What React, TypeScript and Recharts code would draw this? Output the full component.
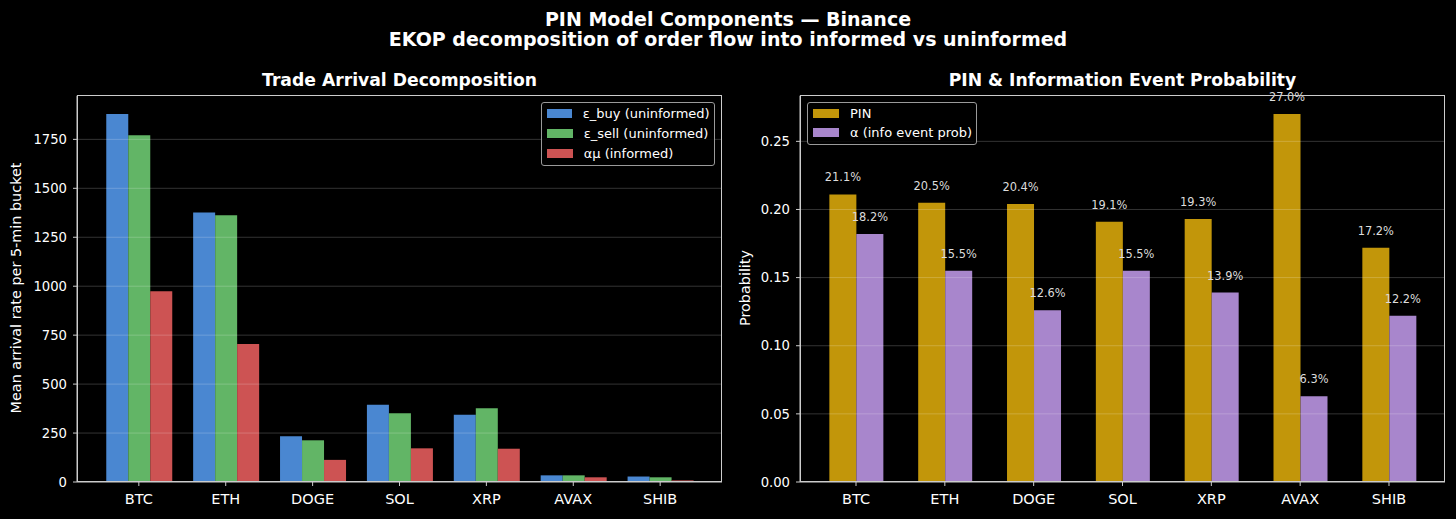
import React from 'react';
import { BarChart, Bar, XAxis, YAxis, ReferenceLine, Legend, LabelList } from 'recharts';

const FONT = '"DejaVu Sans", Verdana, sans-serif';

const categories = ['BTC', 'ETH', 'DOGE', 'SOL', 'XRP', 'AVAX', 'SHIB'];
const epsBuy = [1879, 1377, 234, 395, 344, 34, 28];
const epsSell = [1771, 1363, 213, 351, 377, 34, 24];
const informed = [974, 705, 113, 172, 170, 24, 8];
const pinValues = [0.211, 0.205, 0.204, 0.191, 0.193, 0.27, 0.172];
const alphaValues = [0.182, 0.155, 0.126, 0.155, 0.139, 0.063, 0.122];

const leftSeriesNames = ['ε_buy (uninformed)', 'ε_sell (uninformed)', 'αμ (informed)'];
const leftSeriesColors = ['#4a87d1', '#62b566', '#cd5353'];
const rightSeriesNames = ['PIN', 'α (info event prob)'];
const rightSeriesColors = ['#c2960a', '#a886cc'];

const leftTicks = [0, 250, 500, 750, 1000, 1250, 1500, 1750];
const rightTicks = [0, 0.05, 0.1, 0.15, 0.2, 0.25];
const leftMax = 1973;
const rightMax = 0.2835;

const leftData = categories.map((name, i) => ({
  name,
  buy: epsBuy[i],
  sell: epsSell[i],
  inf: informed[i],
}));
const rightData = categories.map((name, i) => ({
  name,
  pin: pinValues[i],
  alpha: alphaValues[i],
}));

const AXIS = '#cccccc';

function LegendBox(props: any) {
  const { names, colors, rowH, boxStyle } = props;
  return (
    <div
      style={{
        border: '1px solid #9a9a9a',
        borderRadius: 3,
        background: 'rgba(0,0,0,0.85)',
        padding: '1px 4px 2px 5px',
        fontFamily: FONT,
        fontSize: 13,
        color: '#ffffff',
        boxSizing: 'border-box',
        ...boxStyle,
      }}
    >
      {names.map((n: string, i: number) => (
        <div key={n} style={{ display: 'flex', alignItems: 'center', height: rowH, whiteSpace: 'nowrap' }}>
          <span style={{ display: 'inline-block', width: 26, height: 9, background: colors[i], marginRight: 11 }} />
          <span>{n}</span>
        </div>
      ))}
    </div>
  );
}

const tickStyleX = { fill: '#ffffff', fontSize: 14.5, fontFamily: FONT };
const tickStyleY = { fill: '#ffffff', fontSize: 13.2, fontFamily: FONT };

function LeftChart() {
  return (
    <BarChart
      width={728}
      height={519}
      data={leftData}
      margin={{ top: 95.7, right: 6, left: 27, bottom: 7 }}
      barCategoryGap="12.5%"
      barGap={0}
    >
      <XAxis
        dataKey="name"
        interval={0}
        padding={{ left: 18.4, right: 18.4 }}
        tick={tickStyleX}
        tickSize={4}
        tickMargin={8}
        height={30}
        axisLine={{ stroke: AXIS }}
        tickLine={{ stroke: AXIS }}
      />
      <YAxis
        domain={[0, leftMax]}
        ticks={leftTicks}
        allowDataOverflow
        width={50}
        tick={tickStyleY}
        tickSize={4}
        tickMargin={6}
        axisLine={{ stroke: AXIS }}
        tickLine={{ stroke: AXIS }}
      />
      <Bar dataKey="buy" name={leftSeriesNames[0]} fill={leftSeriesColors[0]} isAnimationActive={false} />
      <Bar dataKey="sell" name={leftSeriesNames[1]} fill={leftSeriesColors[1]} isAnimationActive={false} />
      <Bar dataKey="inf" name={leftSeriesNames[2]} fill={leftSeriesColors[2]} isAnimationActive={false} />
      {leftTicks
        .filter((t) => t > 0)
        .map((t) => (
          <ReferenceLine key={t} y={t} stroke="#ffffff" strokeOpacity={0.2} strokeWidth={1} />
        ))}
      <Legend
        layout="horizontal"
        verticalAlign="middle"
        align="center"
        wrapperStyle={{ top: 101.7, left: 540.7, width: 'auto', height: 'auto', bottom: 'auto', right: 'auto' }}
        content={() => (
          <LegendBox names={leftSeriesNames} colors={leftSeriesColors} rowH={20} boxStyle={{ width: 174, height: 64 }} />
        )}
      />
    </BarChart>
  );
}

function RightChart() {
  const fmt = (v: any) => `${(Number(v) * 100).toFixed(1)}%`;
  return (
    <BarChart
      width={728}
      height={519}
      data={rightData}
      margin={{ top: 95.7, right: 11, left: 22, bottom: 7 }}
      barCategoryGap="20%"
      barGap={0}
    >
      <XAxis
        dataKey="name"
        interval={0}
        padding={{ left: 11.6, right: 11.6 }}
        tick={tickStyleX}
        tickSize={4}
        tickMargin={8}
        height={30}
        axisLine={{ stroke: AXIS }}
        tickLine={{ stroke: AXIS }}
      />
      <YAxis
        domain={[0, rightMax]}
        ticks={rightTicks}
        allowDataOverflow
        width={50}
        tick={tickStyleY}
        tickFormatter={(v: number) => v.toFixed(2)}
        tickSize={4}
        tickMargin={6}
        axisLine={{ stroke: AXIS }}
        tickLine={{ stroke: AXIS }}
      />
      <Bar dataKey="pin" name={rightSeriesNames[0]} fill={rightSeriesColors[0]} isAnimationActive={false}>
        <LabelList
          dataKey="pin"
          position="top"
          offset={13}
          formatter={fmt}
          style={{ fill: '#dddddd', fontSize: 11.4, fontFamily: FONT }}
        />
      </Bar>
      <Bar dataKey="alpha" name={rightSeriesNames[1]} fill={rightSeriesColors[1]} isAnimationActive={false}>
        <LabelList
          dataKey="alpha"
          position="top"
          offset={13}
          formatter={fmt}
          style={{ fill: '#dddddd', fontSize: 11.4, fontFamily: FONT }}
        />
      </Bar>
      {rightTicks
        .filter((t) => t > 0)
        .map((t) => (
          <ReferenceLine key={t} y={t} stroke="#ffffff" strokeOpacity={0.2} strokeWidth={1} />
        ))}
      <Legend
        layout="horizontal"
        verticalAlign="middle"
        align="center"
        wrapperStyle={{ top: 101.7, left: 79, width: 'auto', height: 'auto', bottom: 'auto', right: 'auto' }}
        content={() => (
          <LegendBox names={rightSeriesNames} colors={rightSeriesColors} rowH={19.5} boxStyle={{ width: 170, height: 43.5 }} />
        )}
      />
    </BarChart>
  );
}

export default function App() {
  const titleStyle: React.CSSProperties = {
    position: 'absolute',
    textAlign: 'center',
    fontFamily: FONT,
    fontWeight: 'bold',
    color: '#ffffff',
    whiteSpace: 'nowrap',
    lineHeight: 1,
  };
  const yLabelStyle: React.CSSProperties = {
    position: 'absolute',
    fontFamily: FONT,
    fontSize: 14.4,
    color: '#ffffff',
    whiteSpace: 'nowrap',
    transform: 'translate(-50%, -50%) rotate(-90deg)',
    lineHeight: 1,
  };
  const frameStyle: React.CSSProperties = {
    position: 'absolute',
    top: 95.2,
    width: 645,
    height: 386.8,
    border: `1px solid ${AXIS}`,
    boxSizing: 'border-box',
    pointerEvents: 'none',
  };
  return (
    <div
      style={{
        position: 'absolute',
        left: 0,
        top: 0,
        width: 1456,
        height: 519,
        background: '#000000',
        overflow: 'hidden',
      }}
    >
      <div style={{ position: 'absolute', left: 0, top: 0 }}>
        <LeftChart />
      </div>
      <div style={{ position: 'absolute', left: 728, top: 0 }}>
        <RightChart />
      </div>
      <div style={{ ...frameStyle, left: 76.5 }} />
      <div style={{ ...frameStyle, left: 799.5 }} />
      <div style={{ ...titleStyle, left: 0, width: 1456, top: 9.5, fontSize: 19 }}>
        PIN Model Components — Binance
      </div>
      <div style={{ ...titleStyle, left: 0, width: 1456, top: 29.5, fontSize: 19 }}>
        EKOP decomposition of order flow into informed vs uninformed
      </div>
      <div style={{ ...titleStyle, left: 77, width: 645, top: 72, fontSize: 17.2 }}>
        Trade Arrival Decomposition
      </div>
      <div style={{ ...titleStyle, left: 800, width: 645, top: 72, fontSize: 17.2 }}>
        PIN &amp; Information Event Probability
      </div>
      <div style={{ ...yLabelStyle, left: 16, top: 288 }}>Mean arrival rate per 5-min bucket</div>
      <div style={{ ...yLabelStyle, left: 745, top: 288 }}>Probability</div>
    </div>
  );
}
